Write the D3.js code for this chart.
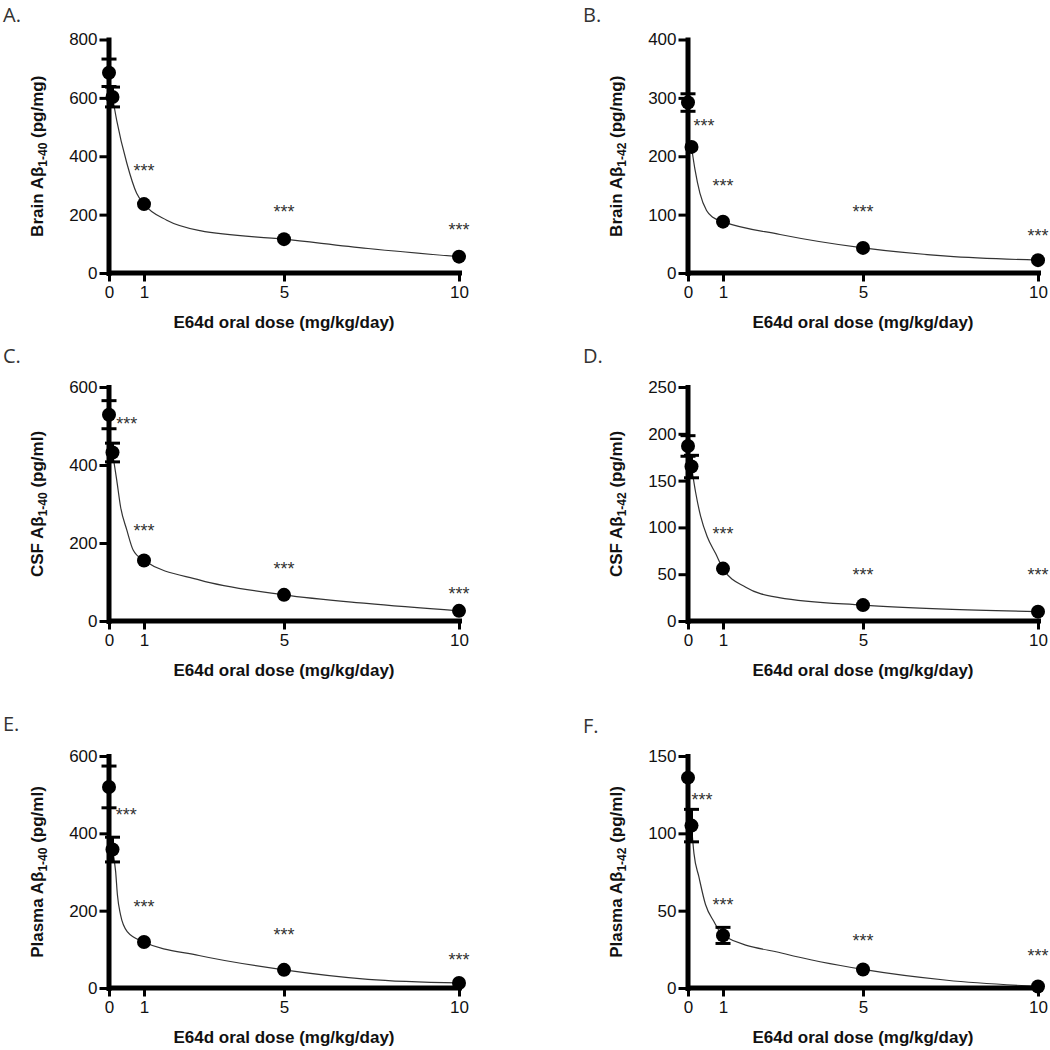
<!DOCTYPE html>
<html>
<head>
<meta charset="utf-8">
<script src="https://cdn.jsdelivr.net/npm/d3@7"></script>
<style>
  html, body { margin: 0; padding: 0; background: #fff; }
  svg { display: block; }
</style>
</head>
<body>
<svg id="chart" width="1050" height="1050"></svg>
<script>
// ---------------- DATA ----------------
const doses = [0, 0.1, 1, 5, 10];
const xTickValues = [0, 1, 5, 10];
const xAxisTitle = "E64d oral dose (mg/kg/day)";

const panelLetters = ["A.", "B.", "C.", "D.", "E.", "F."];
const yPrefix = ["Brain Aβ", "Brain Aβ", "CSF Aβ", "CSF Aβ", "Plasma Aβ", "Plasma Aβ"];
const ySub = ["1-40", "1-42", "1-40", "1-42", "1-40", "1-42"];
const yUnit = ["(pg/mg)", "(pg/mg)", "(pg/ml)", "(pg/ml)", "(pg/ml)", "(pg/ml)"];
const yMax = [800, 400, 600, 250, 600, 150];
const yTickValues = [
  [0, 200, 400, 600, 800],
  [0, 100, 200, 300, 400],
  [0, 200, 400, 600],
  [0, 50, 100, 150, 200, 250],
  [0, 200, 400, 600],
  [0, 50, 100, 150]
];

// Panel A: Brain Ab1-40
const brain40Mean = [686, 603, 236, 116, 56];
const brain40Sem  = [47, 34, 10, 6, 5];
const brain40Stars = [[1, 362], [5, 222], [10, 161]];
const brain40Fit = [[0.1, 603], [0.22, 523], [0.51, 376], [0.79, 273], [1, 236], [1.65, 181], [2.6, 145], [5, 116], [7.4, 84], [10, 56]];

// Panel B: Brain Ab1-42
const brain42Mean = [292, 216, 88, 43, 22];
const brain42Sem  = [15, 8, 5, 4, 3];
const brain42Stars = [[0.46, 259], [1, 156], [5, 112], [10, 70]];
const brain42Fit = [[0.1, 216], [0.2, 177], [0.34, 137], [0.53, 107], [0.72, 95], [1, 88], [2.63, 66], [5, 43], [7.4, 29], [10, 22]];

// Panel C: CSF Ab1-40
const csf40Mean = [529, 432, 155, 67, 26];
const csf40Sem  = [36, 24, 8, 6, 5];
const csf40Stars = [[0.51, 515], [1, 241], [5, 144], [10, 79]];
const csf40Fit = [[0.1, 432], [0.22, 362], [0.33, 293], [0.51, 233], [0.69, 182], [1, 155], [2.6, 105], [5, 67], [7.36, 45], [10, 26]];

// Panel D: CSF Ab1-42
const csf42Mean = [187, 165, 56, 17, 10];
const csf42Sem  = [11, 12, 4, 3, 2];
const csf42Stars = [[1, 97], [5, 53], [10, 53]];
const csf42Fit = [[0.1, 165], [0.22, 137], [0.36, 112], [0.55, 90], [0.79, 72], [1, 56], [1.65, 36], [2.6, 25], [5, 17], [7.36, 12.7], [10, 10]];

// Panel E: Plasma Ab1-40
const plasma40Mean = [520, 358, 119, 47, 13];
const plasma40Sem  = [54, 32, 8, 5, 4];
const plasma40Stars = [[0.49, 458], [1, 220], [5, 147], [10, 83]];
const plasma40Fit = [[0.1, 358], [0.19, 301], [0.24, 241], [0.33, 189], [0.52, 146], [1, 119], [2.57, 84], [5, 47], [7.4, 22.5], [10, 13]];

// Panel F: Plasma Ab1-42
const plasma42Mean = [136, 105, 34, 12, 1];
const plasma42Sem  = [3, 10.5, 5.2, 2, 1];
const plasma42Stars = [[0.4, 124], [1, 56], [5, 33], [10, 23]];
const plasma42Fit = [[0.1, 105], [0.17, 87], [0.31, 72], [0.5, 54], [0.74, 43], [1, 34], [2.79, 22], [5, 12], [7.4, 5], [10, 1]];

const means = [brain40Mean, brain42Mean, csf40Mean, csf42Mean, plasma40Mean, plasma42Mean];
const sems  = [brain40Sem, brain42Sem, csf40Sem, csf42Sem, plasma40Sem, plasma42Sem];
const stars = [brain40Stars, brain42Stars, csf40Stars, csf42Stars, plasma40Stars, plasma42Stars];
const fits  = [brain40Fit, brain42Fit, csf40Fit, csf42Fit, plasma40Fit, plasma42Fit];

// ---------------- LAYOUT ----------------
const svg = d3.select("#chart");
const colX = [109, 688];          // y-axis x position per column
const axisWidth = 350;
const rowY = [[39.5, 273], [387, 621], [756, 988]]; // [top, bottom] per row
const letterPos = [[3, 22], [583, 22], [3, 363], [583, 363], [3, 731], [583, 733]];
const markerR = 7;

const tickFont = "Arial, 'Liberation Sans', sans-serif";

for (let p = 0; p < 6; p++) {
  const col = p % 2, row = Math.floor(p / 2);
  const x0 = colX[col], top = rowY[row][0], bottom = rowY[row][1];

  const x = d3.scaleLinear().domain([0, 10]).range([x0, x0 + axisWidth]);
  const y = d3.scaleLinear().domain([0, yMax[p]]).range([bottom, top]);

  const g = svg.append("g");

  // panel letter
  g.append("text")
    .attr("x", letterPos[p][0]).attr("y", letterPos[p][1])
    .attr("font-family", "'Open Sans', 'Noto Sans', sans-serif")
    .attr("font-size", 20).attr("fill", "#333")
    .text(panelLetters[p]);

  // fitted curve
  const line = d3.line().x(d => x(d[0])).y(d => y(d[1])).curve(d3.curveMonotoneX);
  g.append("path").datum(fits[p])
    .attr("d", line).attr("fill", "none")
    .attr("stroke", "#333").attr("stroke-width", 1.2);

  // axes
  const yAxis = d3.axisLeft(y).tickValues(yTickValues[p]).tickSizeInner(9).tickSizeOuter(0).tickPadding(2);
  const xAxis = d3.axisBottom(x).tickValues(xTickValues).tickSizeInner(9).tickSizeOuter(0).tickPadding(4);

  const ya = g.append("g").attr("transform", `translate(${x0 - 0.5},0)`).call(yAxis);
  const xa = g.append("g").attr("transform", `translate(0,${bottom - 0.5})`).call(xAxis);
  [ya, xa].forEach(a => {
    a.select(".domain").attr("stroke", "#000").attr("stroke-width", 5).attr("stroke-linecap", "square");
    a.selectAll(".tick line").attr("stroke", "#000").attr("stroke-width", 3);
    a.selectAll(".tick text").attr("fill", "#111").attr("font-family", tickFont).attr("font-size", 17);
  });

  // error bars (hidden by the symbol when smaller than it, as in the source)
  const pts = doses.map((d, i) => ({ d, m: means[p][i], s: sems[p][i] }));
  const eb = g.append("g").attr("stroke", "#000").attr("stroke-width", 3);
  pts.forEach(o => {
    const pix = Math.abs(y(o.m) - y(o.m + o.s));
    if (pix <= markerR) return;
    eb.append("line").attr("x1", x(o.d)).attr("x2", x(o.d)).attr("y1", y(o.m - o.s)).attr("y2", y(o.m + o.s));
    [o.m - o.s, o.m + o.s].forEach(v => {
      eb.append("line").attr("x1", x(o.d) - 7.5).attr("x2", x(o.d) + 7.5).attr("y1", y(v)).attr("y2", y(v));
    });
  });

  // points
  g.selectAll("circle.pt").data(pts).enter().append("circle")
    .attr("cx", o => x(o.d)).attr("cy", o => y(o.m)).attr("r", markerR).attr("fill", "#000");

  // significance stars
  g.selectAll("text.star").data(stars[p]).enter().append("text")
    .attr("x", s => x(s[0])).attr("y", s => y(s[1]) + 10)
    .attr("text-anchor", "middle")
    .attr("font-family", tickFont).attr("font-size", 18).attr("fill", "#333")
    .text("***");

  // x axis title
  g.append("text")
    .attr("x", x0 + axisWidth / 2).attr("y", bottom + 55)
    .attr("text-anchor", "middle")
    .attr("font-family", tickFont).attr("font-size", 17).attr("font-weight", "bold")
    .attr("fill", "#111")
    .text(xAxisTitle);

  // y axis title (rotated, with subscript)
  const yt = g.append("text")
    .attr("transform", `translate(${x0 - 66},${(top + bottom) / 2}) rotate(-90)`)
    .attr("text-anchor", "middle")
    .attr("font-family", tickFont).attr("font-size", 17).attr("font-weight", "bold")
    .attr("fill", "#111");
  yt.append("tspan").text(yPrefix[p]);
  yt.append("tspan").attr("dy", 4).attr("font-size", 12).text(ySub[p]);
  yt.append("tspan").attr("dy", -4).text(" " + yUnit[p]);
}
</script>
</body>
</html>
